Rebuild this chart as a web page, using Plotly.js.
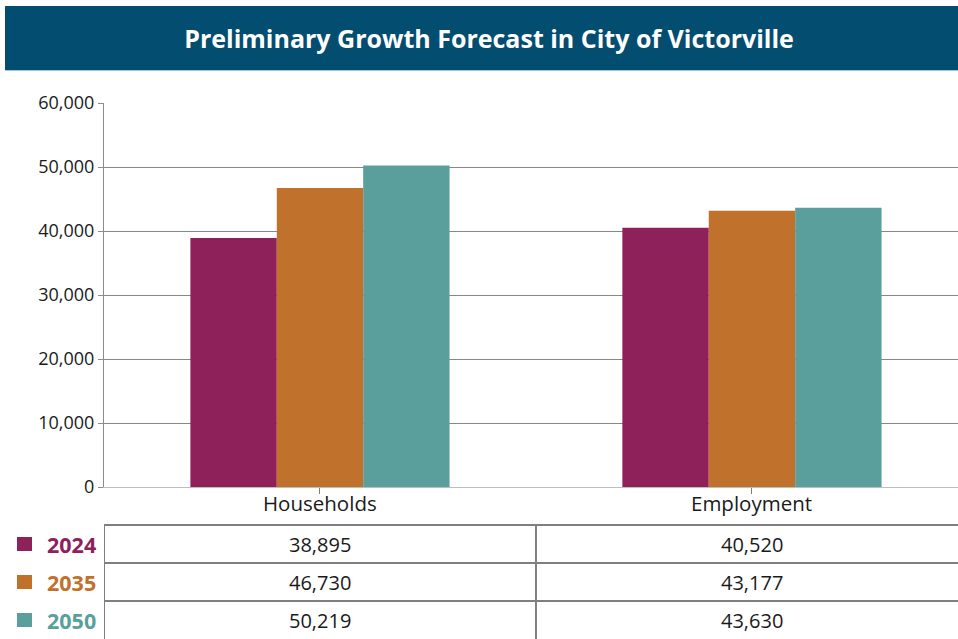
<!DOCTYPE html>
<html>
<head>
<meta charset="utf-8">
<script src="https://cdn.plot.ly/plotly-3.0.1.min.js"></script>
<style>html,body{margin:0;padding:0;background:#fff;overflow:hidden}</style>
</head>
<body>
<div id="chart" style="width:958px;height:639px"></div>
<script>
const categories = ["Households", "Employment"];
const seriesNames = ["2024", "2035", "2050"];
const values2024 = [38895, 40520];
const values2035 = [46730, 43177];
const values2050 = [50219, 43630];
const seriesColors = ["#8e2159", "#c0712b", "#5a9f9c"];
const yTicks = [0, 10000, 20000, 30000, 40000, 50000, 60000];

const allValues = [values2024, values2035, values2050];
const FONT = '"Open Sans", "Noto Sans", sans-serif';

// pixel geometry helpers (plot area: left 104, top 103, bottom 487, width 854, height 384)
const L = 104, T = 103, B = 487, W = 854, H = 384;
const px = x => (x - L) / W;
const py = y => (B - y) / H;

const traces = allValues.map((vals, i) => ({
  type: 'bar', x: categories, y: vals, name: seriesNames[i],
  marker: {color: seriesColors[i], line: {width: 0}},
  hoverinfo: 'none', showlegend: false
}));

const shapes = [];
const annotations = [];

// title banner
shapes.push({type: 'rect', xref: 'paper', yref: 'paper', x0: px(5), x1: px(960), y0: py(70), y1: py(6),
  fillcolor: '#034d70', line: {width: 0}, layer: 'above'});
shapes.push({type: 'line', xref: 'paper', yref: 'paper', x0: px(5), x1: px(960), y0: py(70.5), y1: py(70.5),
  line: {color: '#9fc8dc', width: 1}});

// category labels
categories.forEach(c => annotations.push({
  xref: 'x', yref: 'paper', x: c, y: py(503), xanchor: 'center', yanchor: 'middle',
  text: c, showarrow: false, font: {family: FONT, size: 20.5, color: '#1a1a1a'}
}));

// data table
const rowTops = [525, 563, 601, 639];
rowTops.slice(0, 3).forEach(y => shapes.push({type: 'line', xref: 'x', yref: 'paper', x0: -0.5, x1: 1.5, y0: py(y), y1: py(y),
  line: {color: '#7f7f7f', width: 2}}));
[-0.5, 0.5].forEach(x => shapes.push({type: 'line', xref: 'x', yref: 'paper', x0: x, x1: x, y0: py(525), y1: py(645),
  line: {color: '#7f7f7f', width: 2}}));

allValues.forEach((vals, r) => {
  const yc = (rowTops[r] + rowTops[r + 1]) / 2;
  vals.forEach((v, c) => annotations.push({
    xref: 'x', yref: 'paper', x: categories[c], y: py(yc), xanchor: 'center', yanchor: 'middle',
    text: v.toLocaleString('en-US'), showarrow: false,
    font: {family: FONT, size: 20, color: '#1a1a1a'}
  }));
  // legend square
  shapes.push({type: 'rect', xref: 'paper', yref: 'paper', x0: px(17), x1: px(32), y0: py(yc + 7), y1: py(yc - 7),
    fillcolor: seriesColors[r], line: {width: 0}});
  annotations.push({
    xref: 'paper', yref: 'paper', x: px(98), y: py(yc), xanchor: 'right', yanchor: 'middle',
    text: '<b>' + seriesNames[r] + '</b>', showarrow: false,
    font: {family: FONT, size: 21.5, color: seriesColors[r]}
  });
});

const layout = {
  width: 958, height: 639,
  margin: {l: L, r: 0, t: T, b: 639 - B, pad: 0},
  paper_bgcolor: '#ffffff', plot_bgcolor: '#ffffff',
  title: {text: '<b>Preliminary Growth Forecast in City of Victorville</b>', xref: 'container', yref: 'container',
    x: 0.5105, y: 1 - 39 / 639, xanchor: 'center', yanchor: 'middle',
    font: {family: FONT, size: 25, color: '#ffffff'}},
  barmode: 'group', bargap: 0.4, bargroupgap: 0,
  xaxis: {type: 'category', range: [-0.5, 1.477], showgrid: false, showline: true, linecolor: '#bdbdbd', linewidth: 1,
    ticks: 'outside', ticklen: 6, tickcolor: '#7f7f7f', tickwidth: 1, showticklabels: false,
    fixedrange: true, zeroline: false},
  yaxis: {range: [0, 60000], tickvals: yTicks, tickformat: ',d', showgrid: true, gridcolor: '#878787', gridwidth: 1,
    showline: true, linecolor: '#8c8c8c', linewidth: 1, ticks: 'outside', ticklen: 5, tickcolor: '#8c8c8c',
    tickfont: {family: FONT, size: 18, color: '#1a1a1a'}, zeroline: false, fixedrange: true},
  shapes: shapes, annotations: annotations, showlegend: false
};

Plotly.newPlot('chart', traces, layout, {staticPlot: true, displayModeBar: false});
</script>
</body>
</html>
